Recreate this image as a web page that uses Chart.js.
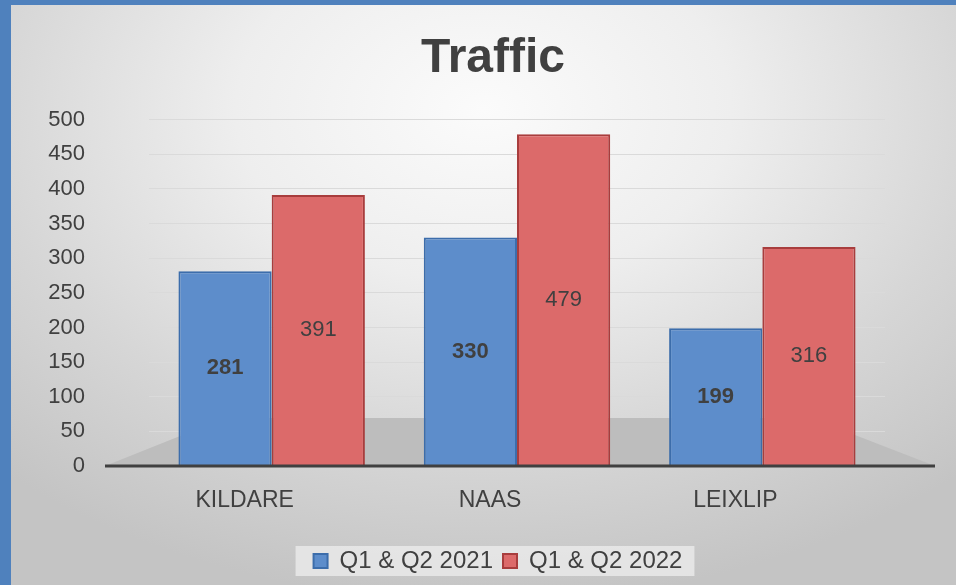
<!DOCTYPE html>
<html>
<head>
<meta charset="utf-8">
<script src="https://cdn.jsdelivr.net/npm/chart.js@4.4.1/dist/chart.umd.min.js"></script>
<style>
  html, body { margin: 0; padding: 0; background: #4f81bd; }
  body { width: 956px; height: 585px; overflow: hidden; position: relative; }
  #chartBox {
    position: absolute; left: 11px; top: 5px; width: 945px; height: 580px;
    background: radial-gradient(ellipse 75% 85% at 50% 18%, #fbfbfb 0%, #eeeeee 35%, #d6d6d6 70%, #c4c4c4 100%);
  }
</style>
</head>
<body>
<div id="chartBox"><canvas id="trafficChart"></canvas></div>
<script>
const towns = ["KILDARE", "NAAS", "LEIXLIP"];
const traffic2021 = [281, 330, 199];
const traffic2022 = [391, 479, 316];
const seriesNames = ["Q1 & Q2 2021", "Q1 & Q2 2022"];
const yMin = 0, yMax = 500, yStep = 50;

Chart.defaults.font.family = "'Liberation Sans', Arial, sans-serif";
Chart.defaults.color = "#404040";

// grey floor + dark base line, like the 3D floor in excel
const floorPlugin = {
  id: "floor",
  beforeDatasetsDraw(chart) {
    const { ctx, chartArea } = chart;
    const y0 = chart.scales.y.getPixelForValue(0);
    ctx.save();
    ctx.fillStyle = "#bdbdbd";
    ctx.beginPath();
    ctx.moveTo(chartArea.left - 44, y0);
    ctx.lineTo(chartArea.left + 76, y0 - 48);
    ctx.lineTo(chartArea.right - 74, y0 - 48);
    ctx.lineTo(chartArea.right + 50, y0);
    ctx.closePath();
    ctx.fill();
    ctx.restore();
  },
  afterDatasetsDraw(chart) {
    const { ctx, chartArea } = chart;
    const y0 = chart.scales.y.getPixelForValue(0);
    ctx.save();
    ctx.strokeStyle = "#404040";
    ctx.lineWidth = 3;
    ctx.beginPath();
    ctx.moveTo(chartArea.left - 44, y0);
    ctx.lineTo(chartArea.right + 50, y0);
    ctx.stroke();
    ctx.restore();
  }
};

// value labels in the middle of each bar
const valueLabels = {
  id: "valueLabels",
  afterDatasetsDraw(chart) {
    const ctx = chart.ctx;
    ctx.save();
    ctx.textAlign = "center";
    ctx.textBaseline = "middle";
    ctx.fillStyle = "#404040";
    chart.data.datasets.forEach((ds, i) => {
      ctx.font = (i == 0 ? "bold " : "") + "22px 'Liberation Sans', Arial, sans-serif";
      chart.getDatasetMeta(i).data.forEach((bar, j) => {
        ctx.fillText(ds.data[j], bar.x, (bar.y + bar.base) / 2);
      });
    });
    ctx.restore();
  }
};

// title and legend sit a bit right of the padded centre in the original
const nudge = {
  id: "nudge",
  afterLayout(chart) {
    const t = chart.titleBlock, lg = chart.legend;
    t.left += 27; t.right += 27;
    lg.left += 32; lg.right += 32;
  }
};

// lighter box behind the legend
const legendBg = {
  id: "legendBg",
  beforeDraw(chart) {
    const boxes = chart.legend.legendHitBoxes;
    if (!boxes || !boxes.length) return;
    const l = Math.min(...boxes.map(b => b.left)) - 18;
    const r = Math.max(...boxes.map(b => b.left + b.width)) + 12;
    const t = Math.min(...boxes.map(b => b.top)) - 3;
    const btm = Math.max(...boxes.map(b => b.top + b.height)) + 3;
    const ctx = chart.ctx;
    ctx.save();
    ctx.fillStyle = "rgba(235,235,235,0.8)";
    ctx.fillRect(l, t, r - l, btm - t);
    ctx.restore();
  }
};

const ctx = document.getElementById("trafficChart").getContext("2d");
new Chart(ctx, {
  type: "bar",
  data: {
    labels: towns,
    datasets: [
      {
        label: seriesNames[0],
        data: traffic2021,
        backgroundColor: "#5d8dcb",
        borderColor: "#3c6dab",
        borderWidth: 2
      },
      {
        label: seriesNames[1],
        data: traffic2022,
        backgroundColor: "#dc6a6a",
        borderColor: "#a83d3d",
        borderWidth: 2
      }
    ]
  },
  options: {
    responsive: true,
    maintainAspectRatio: false,
    animation: false,
    layout: { padding: { left: 36, right: 71, top: 25, bottom: 2 } },
    datasets: { bar: { categoryPercentage: 0.76, barPercentage: 1.0 } },
    plugins: {
      title: {
        display: true,
        text: "Traffic",
        font: { size: 48, weight: "bold" },
        color: "#404040",
        padding: { top: 0, bottom: 32 }
      },
      legend: {
        position: "bottom",
        labels: {
          boxWidth: 14,
          boxHeight: 14,
          padding: 10,
          font: { size: 24 },
          color: "#404040"
        }
      },
      tooltip: { enabled: false }
    },
    scales: {
      x: {
        grid: { display: false },
        border: { display: false },
        ticks: { font: { size: 23 }, padding: 13, labelOffset: -27, color: "#404040" },
        afterFit: (axis) => { axis.height = 73; }
      },
      y: {
        min: yMin,
        max: yMax,
        grid: { color: "#dadada", drawTicks: false },
        border: { display: false },
        ticks: { stepSize: yStep, font: { size: 22 }, padding: 64, color: "#404040" },
        afterFit: (axis) => { axis.width = 102; }
      }
    }
  },
  plugins: [floorPlugin, valueLabels, nudge, legendBg]
});
</script>
</body>
</html>
